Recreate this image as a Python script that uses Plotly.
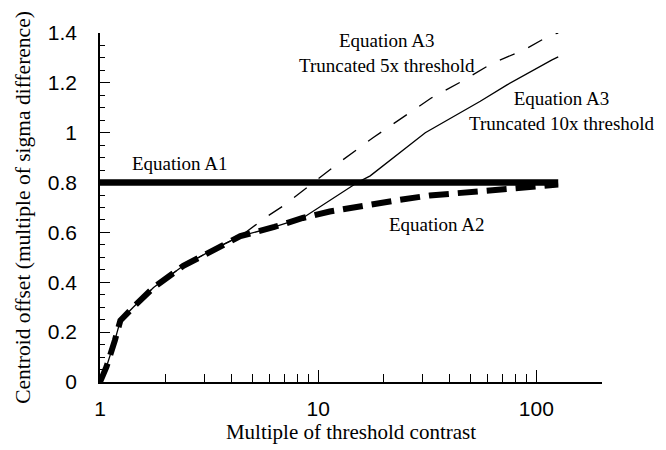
import math
import plotly.graph_objects as go

# ---- data ----
base_x = [1, 1.07, 1.17, 1.24, 1.42, 1.76, 2.41, 3.31, 4.4]
base_y = [0, 0.06, 0.167, 0.247, 0.30, 0.379, 0.466, 0.532, 0.585]

a2_x = base_x + [6.3, 8.5, 11.3, 16.1, 23.7, 32.4, 44.6, 60.3, 81.2, 110, 126]
a2_y = base_y + [0.622, 0.658, 0.684, 0.708, 0.731, 0.748, 0.759, 0.767, 0.776, 0.789, 0.792]

a3_10x_x = base_x + [6.3, 8.5, 15.26, 17.32, 30.97, 55.35, 73.4, 118, 126]
a3_10x_y = base_y + [0.622, 0.658, 0.802, 0.827, 1.0, 1.126, 1.192, 1.292, 1.304]

a3_5x_x = base_x + [5.9, 6.93, 9.19, 12.83, 17.9, 24.2, 33.1, 45.5, 62.9, 87.3, 118, 126]
a3_5x_y = base_y + [0.667, 0.707, 0.789, 0.888, 0.981, 1.06, 1.14, 1.206, 1.279, 1.331, 1.395, 1.40]

a1_x = [1, 126]
a1_y = [0.8, 0.8]

x_major = [1, 10, 100]
x_major_text = ["1", "10", "100"]
x_minor = [2, 3, 4, 5, 6, 7, 8, 9, 20, 30, 40, 50, 60, 70, 80, 90]

SERIF = "Liberation Serif, Times New Roman, serif"
SANS = "Liberation Sans, Arial, sans-serif"

fig = go.Figure()
fig.add_trace(go.Scatter(x=a3_5x_x, y=a3_5x_y, mode="lines",
                         line=dict(color="black", width=1.3, dash="16px,15px"),
                         name="Equation A3 truncated 5x"))
fig.add_trace(go.Scatter(x=a3_10x_x, y=a3_10x_y, mode="lines",
                         line=dict(color="black", width=1.3),
                         name="Equation A3 truncated 10x"))
fig.add_trace(go.Scatter(x=a1_x, y=a1_y, mode="lines",
                         line=dict(color="black", width=6.5),
                         name="Equation A1"))
fig.add_trace(go.Scatter(x=a2_x, y=a2_y, mode="lines",
                         line=dict(color="black", width=6, dash="20px,9px"),
                         name="Equation A2"))

def ann(text, x, y):
    fig.add_annotation(x=math.log10(x), y=y, xref="x", yref="y", text=text,
                       showarrow=False, font=dict(family=SERIF, size=19, color="black"),
                       align="center")

ann("Equation A1", 2.33, 0.875)
ann("Equation A2", 35.1, 0.633)
ann("Equation A3<br>Truncated 5x threshold", 20.7, 1.32)
ann("Equation A3<br>Truncated 10x threshold", 131, 1.087)

fig.update_layout(
    width=666, height=450,
    margin=dict(l=100, r=64, t=33, b=65),
    paper_bgcolor="white", plot_bgcolor="white",
    showlegend=False,
    font=dict(family=SANS, color="black"),
)
fig.update_xaxes(
    type="log", range=[0, math.log10(200)],
    showgrid=False, zeroline=False,
    showline=True, linecolor="black", linewidth=1.5,
    tickmode="array", tickvals=x_major, ticktext=x_major_text,
    ticks="inside", ticklen=12, tickwidth=1.2, tickcolor="black",
    tickfont=dict(family=SANS, size=21, color="black"),
    ticklabelstandoff=7,
    minor=dict(tickmode="array", tickvals=x_minor, ticks="inside", ticklen=8,
               tickwidth=1, tickcolor="black", showgrid=False),
    title=dict(text="Multiple of threshold contrast", standoff=3,
               font=dict(family=SERIF, size=21, color="black")),
)
fig.update_yaxes(
    range=[0, 1.4],
    showgrid=False, zeroline=False,
    showline=True, linecolor="black", linewidth=1.5,
    tickmode="linear", tick0=0, dtick=0.2,
    ticks="inside", ticklen=10, tickwidth=1.2, tickcolor="black",
    tickfont=dict(family=SANS, size=21, color="black"),
    ticklabelstandoff=17,
    minor=dict(tickmode="linear", tick0=0, dtick=0.05, ticks="inside", ticklen=5,
               tickwidth=1, tickcolor="black", showgrid=False),
    title=dict(text="Centroid offset (multiple of sigma difference)", standoff=11,
               font=dict(family=SERIF, size=21.5, color="black")),
)

fig.write_html("out.html")
